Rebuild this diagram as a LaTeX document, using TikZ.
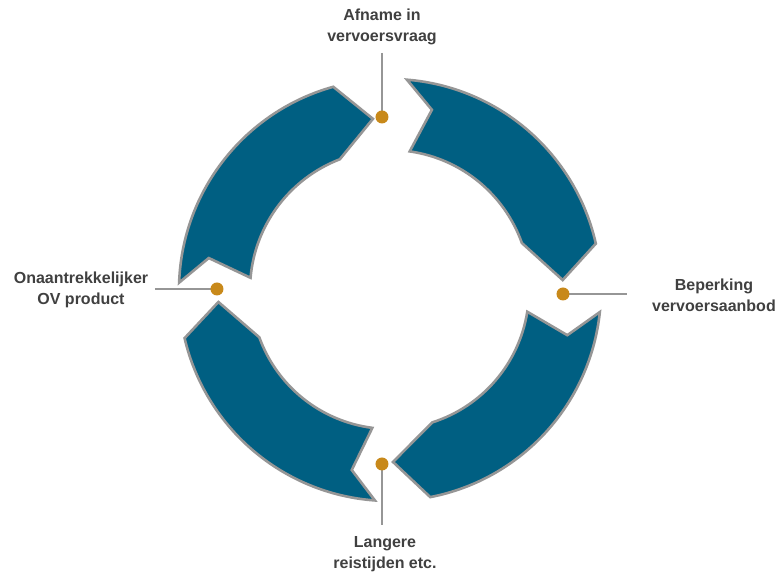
\documentclass[tikz,border=0pt]{standalone}
\usepackage{fontspec}
\setmainfont{Liberation Sans}
\definecolor{arrowfill}{RGB}{0,95,130}
\definecolor{arrowline}{RGB}{150,150,150}
\definecolor{dotcol}{RGB}{200,137,26}
\definecolor{txtcol}{RGB}{64,64,64}
\begin{document}
\begin{tikzpicture}[x=1pt,y=1pt,
  arrowband/.style={fill=arrowfill,draw=arrowline,line width=2.6pt,line join=miter},
  dotnode/.style={circle,fill=dotcol,inner sep=0pt,minimum size=13pt},
  leader/.style={draw=arrowline,line width=2.4pt},
  lbl/.style={font=\fontsize{16}{21}\selectfont\bfseries,text=txtcol,align=center,inner sep=0pt}]
\useasboundingbox (-390,-282) rectangle (390,290);
% arrows (clockwise)
\path[arrowband] (178:211) arc[start angle=178,end angle=105.6,radius=211]
  -- (95.7:172) -- (111:140) arc[start angle=111,end angle=175,radius=140]
  -- (170:184) -- cycle;
\path[arrowband] (85.4:211) arc[start angle=85.4,end angle=12.7,radius=211]
  -- (3.3:173) -- (19.6:140) arc[start angle=19.6,end angle=81.9,radius=140]
  -- (76.9:185) -- cycle;
\path[arrowband] (-6:211) arc[start angle=-6,end angle=-79,radius=211]
  -- (-89:172) -- (-72.3:139) arc[start angle=-72.3,end angle=-9,radius=139]
  -- (-14.3:183) -- cycle;
\path[arrowband] (-94.1:211) arc[start angle=-94.1,end angle=-166.8,radius=211]
  -- (-176:172) -- (-160.1:139) arc[start angle=-160.1,end angle=-97.3,radius=139]
  -- (-102:184) -- cycle;
% leader ends
\coordinate (etop) at (-8,237);
\coordinate (eright) at (237,-4);
\coordinate (ebottom) at (-8,-235);
\coordinate (eleft) at (-235,1);
% dot positions
\coordinate (ptop) at (-8,173);
\coordinate (pright) at (173,-4);
\coordinate (pbottom) at (-8,-174);
\coordinate (pleft) at (-173,1);
\draw[leader] (etop) -- (ptop);
\draw[leader] (eright) -- (pright);
\draw[leader] (ebottom) -- (pbottom);
\draw[leader] (eleft) -- (pleft);
% dots
\node[dotnode] (dtop) at (ptop) {};
\node[dotnode] (dright) at (pright) {};
\node[dotnode] (dbottom) at (pbottom) {};
\node[dotnode] (dleft) at (pleft) {};
% labels
\node[lbl] (ttop) at (-8,263) {Afname in\\vervoersvraag};
\node[lbl] (tright) at (324,-5) {Beperking\\vervoersaanbod};
\node[lbl] (tbottom) at (-5,-264) {Langere\\reistijden etc.};
\node[lbl] (tleft) at (-309,0) {Onaantrekkelijker\\OV product};
\end{tikzpicture}
\end{document}
